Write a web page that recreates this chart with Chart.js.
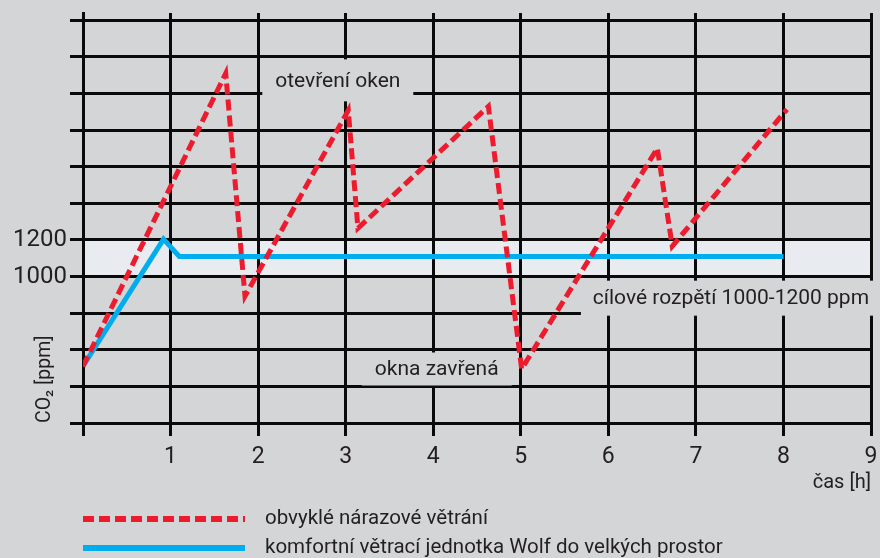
<!DOCTYPE html>
<html>
<head>
<meta charset="utf-8">
<script src="https://cdn.jsdelivr.net/npm/chart.js@4.4.1/dist/chart.umd.min.js"></script>
<style>
  html, body { margin: 0; padding: 0; background: #d4d5d7; }
</style>
</head>
<body>
<canvas id="co2Chart" width="880" height="558"></canvas>
<script>
// time axis (hours) and CO2 axis (ppm)
const hourTicks = [0, 1, 2, 3, 4, 5, 6, 7, 8, 9];
const ppmGrid = [200, 400, 600, 800, 1000, 1200, 1400, 1600, 1800, 2000, 2200, 2400];
const ppmLabels = [1000, 1200];
const targetBand = [1000, 1200];

// usual burst ventilation (windows opened / closed)
const burstHours = [0, 1.63, 1.85, 3.03, 3.14, 4.63, 5.01, 6.56, 6.73, 8.04];
const burstPpm = [510, 2110, 893, 1908, 1264, 1930, 495, 1701, 1166, 1914];

// Wolf ventilation unit
const wolfHours = [0, 0.92, 1.1, 8.0];
const wolfPpm = [510, 1205, 1110, 1110];

const seriesNames = ["obvyklé nárazové větrání", "komfortní větrací jednotka Wolf do velkých prostor"];

const noteTexts = ["otevření oken", "okna zavřená", "cílové rozpětí 1000-1200 ppm"];
const noteHours = [2.91, 4.04, 7.40];
const notePpm = [2072, 495, 882];

const BG = "#d4d5d7";
const INK = "#231f20";
const RED = "#ec1c2e";
const BLUE = "#00aeef";

function toPoints(xs, ys) {
  return xs.map((x, i) => ({ x: x, y: ys[i] }));
}

const backdrop = {
  id: "backdrop",
  beforeDraw(chart) {
    const ctx = chart.ctx;
    const x = chart.scales.x, y = chart.scales.y;
    ctx.save();
    ctx.fillStyle = BG;
    ctx.fillRect(0, 0, chart.width, chart.height);
    // target range band, under the grid
    const top = y.getPixelForValue(targetBand[1]);
    const bottom = y.getPixelForValue(targetBand[0]);
    const left = x.getPixelForValue(hourTicks[0]);
    const right = x.getPixelForValue(hourTicks[hourTicks.length - 1]);
    ctx.fillStyle = "#e8ecf0";
    ctx.fillRect(left, top, right - left, bottom - top);
    ctx.restore();
  }
};

const noteBoxes = [[151, 42], [150, 33], [300, 35]];

const notes = {
  id: "notes",
  beforeDatasetsDraw(chart) {
    const ctx = chart.ctx;
    const x = chart.scales.x, y = chart.scales.y;
    ctx.save();
    ctx.font = "21px Roboto";
    ctx.textAlign = "center";
    ctx.textBaseline = "middle";
    noteTexts.forEach((t, i) => {
      const cx = x.getPixelForValue(noteHours[i]);
      const cy = y.getPixelForValue(notePpm[i]);
      const w = noteBoxes[i][0], h = noteBoxes[i][1];
      ctx.fillStyle = BG;
      ctx.fillRect(cx - w / 2, cy - h / 2, w, h);
      ctx.fillStyle = INK;
      ctx.fillText(t, cx, cy + 1);
    });
    ctx.restore();
  }
};

const bottomLegend = {
  id: "bottomLegend",
  afterDraw(chart) {
    const ctx = chart.ctx;
    ctx.save();
    ctx.font = "20.5px Roboto";
    ctx.textBaseline = "middle";
    chart.data.datasets.forEach((ds, i) => {
      const yy = 519 + i * 29;
      ctx.beginPath();
      ctx.strokeStyle = ds.borderColor;
      ctx.lineWidth = 6;
      ctx.setLineDash(ds.borderDash || []);
      ctx.moveTo(83, yy);
      ctx.lineTo(245, yy);
      ctx.stroke();
      ctx.setLineDash([]);
      ctx.fillStyle = INK;
      ctx.fillText(ds.label, 265, yy);
    });
    ctx.restore();
  }
};

new Chart(document.getElementById("co2Chart"), {
  type: "line",
  data: {
    datasets: [
      {
        label: seriesNames[0],
        data: toPoints(burstHours, burstPpm),
        borderColor: RED,
        borderWidth: 5,
        borderDash: [11, 5],
        pointRadius: 0,
        tension: 0
      },
      {
        label: seriesNames[1],
        data: toPoints(wolfHours, wolfPpm),
        borderColor: BLUE,
        borderWidth: 5,
        pointRadius: 0,
        tension: 0
      }
    ]
  },
  options: {
    responsive: false,
    animation: false,
    layout: { padding: { top: 13, right: 9, left: 0, bottom: 60 } },
    plugins: {
      legend: { display: false },
      tooltip: { enabled: false }
    },
    scales: {
      x: {
        type: "linear",
        min: 0,
        max: 9,
        afterFit: (s) => { s.height = 75; s.paddingLeft = 0; s.paddingRight = 0; },
        afterBuildTicks: (s) => { s.ticks = hourTicks.map(v => ({ value: v })); },
        ticks: {
          padding: 7,
          autoSkip: false,
          color: INK,
          font: { family: "Roboto", size: 23 },
          maxRotation: 0,
          callback: (v) => (v === 0 ? "" : String(v))
        },
        grid: { color: "#0a0a0a", lineWidth: 3, tickLength: 13 },
        border: { color: "#0a0a0a", width: 3 },
        title: {
          display: true,
          text: "čas [h]",
          align: "end",
          color: INK,
          font: { family: "Roboto", size: 20 },
          padding: { top: 0, bottom: 3 }
        }
      },
      y: {
        type: "linear",
        min: 200,
        max: 2440,
        afterFit: (s) => { s.width = 83; s.paddingTop = 0; s.paddingBottom = 0; },
        afterBuildTicks: (s) => { s.ticks = ppmGrid.map(v => ({ value: v })); },
        ticks: {
          padding: 3,
          autoSkip: false,
          color: INK,
          font: { family: "Roboto", size: 24 },
          callback: (v) => (ppmLabels.includes(v) ? String(v) : "")
        },
        grid: { color: "#0a0a0a", lineWidth: 3, tickLength: 13 },
        border: { color: "#0a0a0a", width: 3 },
        title: {
          display: true,
          text: "CO₂ [ppm]",
          align: "start",
          color: INK,
          font: { family: "Roboto", size: 19.5 },
          padding: { top: 33, bottom: 0 }
        }
      }
    }
  },
  plugins: [backdrop, notes, bottomLegend]
});
</script>
</body>
</html>
